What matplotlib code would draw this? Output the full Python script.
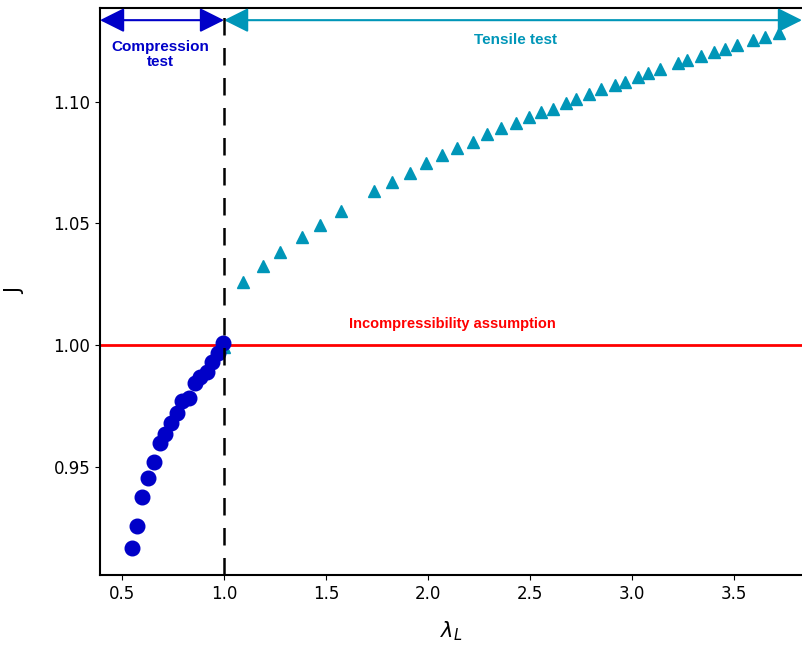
import matplotlib.pyplot as plt

# compression test (circles)
lam_comp = [0.550, 0.575, 0.600, 0.629, 0.658, 0.686, 0.712, 0.740, 0.768,
            0.796, 0.827, 0.858, 0.882, 0.915, 0.943, 0.969, 0.997]
J_comp = [0.9165, 0.9258, 0.9377, 0.9452, 0.9521, 0.9596, 0.9633, 0.9678, 0.9722,
          0.9771, 0.9781, 0.9843, 0.9867, 0.9890, 0.9931, 0.9966, 1.0009]

# tensile test (triangles)
lam_tens = [1.000, 1.093, 1.193, 1.276, 1.383, 1.472, 1.572, 1.735, 1.824, 1.911, 1.989,
            2.070, 2.143, 2.219, 2.290, 2.360, 2.431, 2.495, 2.556, 2.613,
            2.676, 2.725, 2.790, 2.849, 2.917, 2.966, 3.029, 3.080, 3.138,
            3.224, 3.269, 3.338, 3.401, 3.456, 3.516, 3.592, 3.650, 3.719]
J_tens = [0.9990, 1.0260, 1.0325, 1.0381, 1.0442, 1.0493, 1.0552, 1.0634, 1.0671, 1.0708, 1.0747,
          1.0781, 1.0811, 1.0835, 1.0866, 1.0893, 1.0911, 1.0938, 1.0956, 1.0972,
          1.0993, 1.1011, 1.1030, 1.1051, 1.1068, 1.1082, 1.1100, 1.1119, 1.1133,
          1.1157, 1.1171, 1.1189, 1.1203, 1.1215, 1.1233, 1.1253, 1.1267, 1.1283]

blue = '#0000C8'
teal = '#0096B8'
narrow = ['Liberation Sans', 'DejaVu Sans']

fig = plt.figure(figsize=(8.02, 6.51), dpi=100)
ax = fig.add_axes([100 / 802, 76 / 651, 702 / 802, 567 / 651])

ax.plot(lam_tens, J_tens, '^', color=teal, markersize=9, zorder=3)
ax.plot(lam_comp, J_comp, 'o', color=blue, markersize=10.5, zorder=4)

ax.axhline(1.0, color='red', lw=2, zorder=2)
ax.axvline(1.0, color='black', lw=1.8, ls=(0, (7, 5)), zorder=5)

ax.set_xlim(0.392, 3.833)
ax.set_ylim(0.9055, 1.1385)
ax.set_xticks([0.5, 1.0, 1.5, 2.0, 2.5, 3.0, 3.5])
ax.set_yticks([0.95, 1.00, 1.05, 1.10])
ax.tick_params(labelsize=12)
ax.spines['right'].set_visible(False)
for s in ['left', 'bottom', 'top']:
    ax.spines[s].set_linewidth(1.5)

ax.set_xlabel(r'$\lambda_L$', fontsize=15, labelpad=12)
ax.set_ylabel('J', fontsize=15, labelpad=20)

y_arr = 1.1335
style = '<|-|>,head_length=1.0,head_width=0.5'
ax.annotate('', xy=(0.392, y_arr), xytext=(1.0, y_arr),
            arrowprops=dict(arrowstyle=style, mutation_scale=15, color=blue, lw=1.5,
                            shrinkA=0, shrinkB=0),
            annotation_clip=False)
ax.annotate('', xy=(1.0, y_arr), xytext=(3.833, y_arr),
            arrowprops=dict(arrowstyle=style, mutation_scale=15, color=teal, lw=1.5,
                            shrinkA=0, shrinkB=0),
            annotation_clip=False)

ax.text(0.69, 1.1195, 'Compression\ntest', color=blue, fontsize=11, fontweight='bold',
        ha='center', va='center', family=narrow, linespacing=1.1)
ax.text(2.43, 1.1255, 'Tensile test', color=teal, fontsize=11, fontweight='bold',
        ha='center', va='center', family=narrow)
ax.text(2.12, 1.0085, 'Incompressibility assumption', color='red', fontsize=10.5,
        fontweight='bold', ha='center', va='center', family=narrow)

fig.savefig('out.png', dpi=100)
